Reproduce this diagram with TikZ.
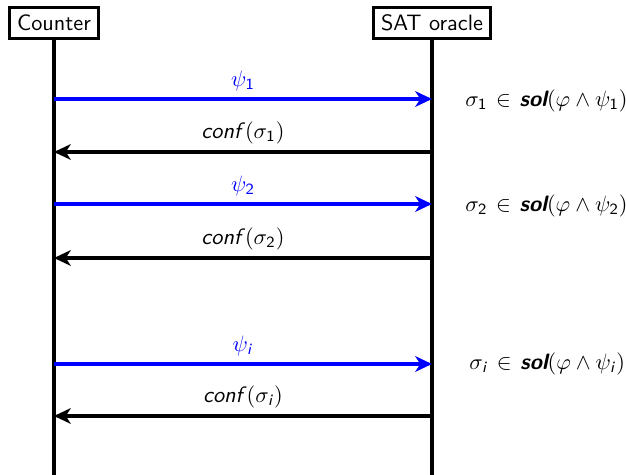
\documentclass[tikz,border=0pt]{standalone}
\usepackage{amsmath}
\usetikzlibrary{arrows.meta}
\renewcommand{\familydefault}{\sfdefault}
\newcommand{\sd}[1]{\textsf{#1}}
\newcommand{\myin}{\mathrel{\mkern2mu\in\mkern2mu}}
\begin{document}
\begin{tikzpicture}[x=0.449pt,y=-0.449pt,
  actor/.style={draw,line width=1.4pt,font=\sffamily},
  life/.style={line width=1.45pt},
  req/.style={line width=1.45pt,blue,-{Stealth[length=7.5pt,width=7pt,inset=2.2pt]}},
  resp/.style={line width=1.45pt,black,-{Stealth[length=7.5pt,width=7pt,inset=2.2pt]}},
  msg/.style={above=-0.3pt,font=\sffamily},
  note/.style={anchor=west,inner sep=0pt,font=\sffamily}
]
\useasboundingbox (0,0) rectangle (626,475);
\node[actor] (c) at (54,23) {Counter};
\node[actor] (s) at (432,23) {SAT oracle};
\coordinate (cb) at (54,475);
\coordinate (sb) at (432,475);
\draw[life] (c) -- (cb);
\draw[life] (s) -- (sb);
% round 1
\coordinate (c1) at (54,99);  \coordinate (s1) at (432,99);
\coordinate (c1r) at (54,152); \coordinate (s1r) at (432,152);
\draw[req] (c1) -- node[msg,text=blue] {$\psi_{\sd{1}}$} (s1);
\draw[resp] (s1r) -- node[msg] {\textit{conf}$(\sigma_{\sd{1}})$} (c1r);
\node[note] (n1) at (465,101) {$\sigma_{\sd{1}}\myin\textit{\textbf{sol}}(\varphi\wedge\psi_{\sd{1}})$};
% round 2
\coordinate (c2) at (54,204);  \coordinate (s2) at (432,204);
\coordinate (c2r) at (54,258); \coordinate (s2r) at (432,258);
\draw[req] (c2) -- node[msg,text=blue] {$\psi_{\sd{2}}$} (s2);
\draw[resp] (s2r) -- node[msg] {\textit{conf}$(\sigma_{\sd{2}})$} (c2r);
\node[note] (n2) at (465,206) {$\sigma_{\sd{2}}\myin\textit{\textbf{sol}}(\varphi\wedge\psi_{\sd{2}})$};
% round i
\coordinate (ci) at (54,364);  \coordinate (si) at (432,364);
\coordinate (cir) at (54,416); \coordinate (sir) at (432,416);
\draw[req] (ci) -- node[msg,text=blue] {$\psi_{\sd{\textit{i}}}$} (si);
\draw[resp] (sir) -- node[msg] {\textit{conf}$(\sigma_{\sd{\textit{i}}})$} (cir);
\node[note] (ni) at (469,364) {$\sigma_{\sd{\textit{i}}}\myin\textit{\textbf{sol}}(\varphi\wedge\psi_{\sd{\textit{i}}})$};
\end{tikzpicture}
\end{document}
